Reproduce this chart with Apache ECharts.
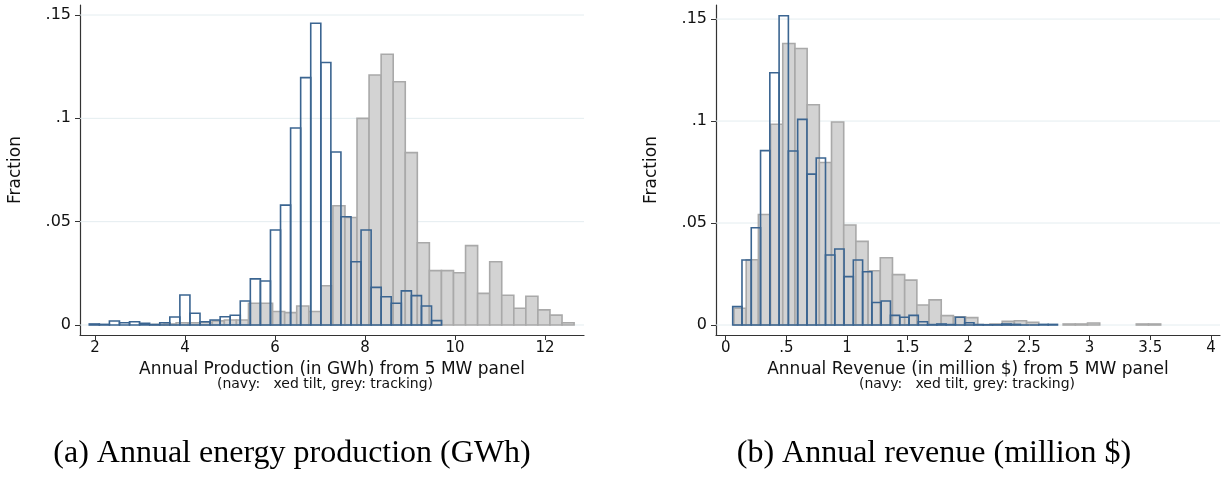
<!DOCTYPE html>
<html>
<head>
<meta charset="utf-8">
<script src="https://cdn.jsdelivr.net/npm/echarts@6/dist/echarts.min.js"></script>
<style>
html, body { margin: 0; padding: 0; background: #fff; }
#chart { width: 1225px; height: 485px; }
</style>
</head>
<body>
<div id="chart"></div>
<script>
// (a) annual production in GWh -- navy = fixed tilt, grey = tracking
var prodFixedStart = 1.873, prodFixedWidth = 0.2237;
var prodFixed = [0.0005, 0.0003, 0.0019, 0.0011, 0.0016, 0.0008, 0.0002, 0.0011, 0.0039, 0.0145,
  0.0057, 0.0016, 0.0024, 0.0040, 0.0047, 0.0116, 0.0223, 0.0213, 0.0460, 0.0580,
  0.0953, 0.1197, 0.1460, 0.1270, 0.0837, 0.0524, 0.0306, 0.0460, 0.0182, 0.0137,
  0.0105, 0.0165, 0.0142, 0.0092, 0.0021];
var prodTrackStart = 3.267, prodTrackWidth = 0.268;
var prodTrack = [0.0003, 0.0005, 0.0011, 0.0011, 0.0013, 0.0020, 0.0024, 0.0024, 0.0105, 0.0105,
  0.0065, 0.0060, 0.0092, 0.0065, 0.0190, 0.0577, 0.0520, 0.1000, 0.1210, 0.1310,
  0.1177, 0.0834, 0.0398, 0.0263, 0.0263, 0.0253, 0.0384, 0.0153, 0.0306, 0.0144,
  0.0081, 0.0139, 0.0073, 0.0048, 0.0011];

// (b) annual revenue in million $
var revFixedStart = 0.0577, revFixedWidth = 0.0765;
var revFixed = [0.0090, 0.0319, 0.0477, 0.0855, 0.1237, 0.1516, 0.0853, 0.1008, 0.0740, 0.0819,
  0.0343, 0.0373, 0.0237, 0.0319, 0.0261, 0.0110, 0.0118, 0.0047, 0.0038, 0.0047,
  0.0016, 0.0002, 0.0005, 0.0002, 0.0038, 0.0011, 0.0002, 0.0001, 0.0001, 0.0005,
  0.0003, 0, 0, 0.0003, 0.0003];
var revTrackStart = 0.0684, revTrackWidth = 0.1005;
var revTrack = [0.0082, 0.0320, 0.0542, 0.0984, 0.1380, 0.1356, 0.1080, 0.0797, 0.0995, 0.0490,
  0.0410, 0.0266, 0.0330, 0.0247, 0.0220, 0.0098, 0.0123, 0.0046, 0.0040, 0.0036,
  0.0002, 0.0005, 0.0018, 0.0021, 0.0013, null, null, 0.0005, 0.0005, 0.0010,
  null, null, null, 0.0005, 0.0005];

var fractionTicks = [0, 0.05, 0.1, 0.15];
var prodTicks = [2, 4, 6, 8, 10, 12];
var revTicks = [0, 0.5, 1, 1.5, 2, 2.5, 3, 3.5, 4];

var NAVY = '#3b6591', GREY_LINE = '#a9a9a9', GREY_FILL = '#d3d3d3';
var SANS = 'DejaVu Sans';

function bins(start, width, vals) {
  var out = [];
  vals.forEach(function (v, i) {
    if (v === null) return;
    out.push([start + i * width, start + (i + 1) * width, v]);
  });
  return out;
}

function histItem(stroke, fill) {
  return function (params, api) {
    var a = api.coord([api.value(0), api.value(2)]);
    var b = api.coord([api.value(1), 0]);
    return {
      type: 'rect',
      shape: { x: a[0], y: a[1], width: b[0] - a[0], height: b[1] - a[1] },
      style: { fill: fill, stroke: stroke, lineWidth: 1.6 }
    };
  };
}

function gridLineItem(params, api) {
  var cs = params.coordSys;
  var y = api.coord([0, api.value(0)])[1];
  return {
    type: 'line',
    shape: { x1: cs.x, y1: y, x2: cs.x + cs.width, y2: y },
    style: { stroke: '#e4edf0', lineWidth: 1 }
  };
}

function fmt(v) {
  return v === 0 ? '0' : String(v).replace(/^0\./, '.');
}

function xAx(idx, min, max, ticks, name) {
  return {
    type: 'value', gridIndex: idx, min: min, max: max,
    axisLine: { show: true, onZero: false, lineStyle: { color: '#333', width: 1.2 } },
    axisTick: { show: true, length: 5, customValues: ticks, lineStyle: { color: '#333' } },
    axisLabel: { customValues: ticks, formatter: fmt, margin: 6, fontFamily: SANS, fontSize: 15, color: '#111' },
    splitLine: { show: false },
    name: name, nameLocation: 'middle', nameGap: 16,
    nameTextStyle: { fontFamily: SANS, fontSize: 17, color: '#111' }
  };
}

function yAx(idx, min, max) {
  return {
    type: 'value', gridIndex: idx, min: min, max: max,
    axisLine: { show: true, onZero: false, lineStyle: { color: '#333', width: 1.2 } },
    axisTick: { show: true, length: 5, customValues: fractionTicks, lineStyle: { color: '#333' } },
    axisLabel: { customValues: fractionTicks, formatter: fmt, margin: 9, fontFamily: SANS, fontSize: 16, color: '#111' },
    splitLine: { show: false },
    name: 'Fraction', nameLocation: 'middle', nameGap: 56, nameRotate: 90,
    nameTextStyle: { fontFamily: SANS, fontSize: 17, color: '#111' }
  };
}

var chart = echarts.init(document.getElementById('chart'), null, { renderer: 'canvas' });

var captionStyle = { fontFamily: SANS, fontSize: 14, color: '#111', fontWeight: 'normal' };
var subStyle = { fontFamily: 'Liberation Serif', fontSize: 32, color: '#000', fontWeight: 'normal' };

var option = {
  backgroundColor: '#fff',
  animation: false,
  title: [
    { text: '(navy:   xed tilt, grey: tracking)', left: 320, top: 372, textAlign: 'center', textStyle: captionStyle },
    { text: '(navy:   xed tilt, grey: tracking)', left: 962, top: 372, textAlign: 'center', textStyle: captionStyle },
    { text: '(a) Annual energy production (GWh)', left: 287, top: 433, textAlign: 'center', textStyle: subStyle },
    { text: '(b) Annual revenue (million $)', left: 929, top: 433, textAlign: 'center', textStyle: subStyle }
  ],
  grid: [
    { left: 80, top: 5, width: 504, height: 330 },
    { left: 716, top: 5, width: 504, height: 330 }
  ],
  xAxis: [
    xAx(0, 1.667, 12.867, prodTicks, 'Annual Production (in GWh) from 5 MW panel'),
    xAx(1, -0.08, 4.075, revTicks, 'Annual Revenue (in million $) from 5 MW panel')
  ],
  yAxis: [
    yAx(0, -0.00484, 0.15484),
    yAx(1, -0.0049, 0.1569)
  ],
  series: [
    { type: 'custom', xAxisIndex: 0, yAxisIndex: 0, z: 1, silent: true,
      data: fractionTicks.map(function (v) { return [v]; }), renderItem: gridLineItem },
    { type: 'custom', xAxisIndex: 1, yAxisIndex: 1, z: 1, silent: true,
      data: fractionTicks.map(function (v) { return [v]; }), renderItem: gridLineItem },
    { type: 'custom', name: 'tracking', xAxisIndex: 0, yAxisIndex: 0, z: 2,
      encode: { x: [0, 1], y: 2 },
      data: bins(prodTrackStart, prodTrackWidth, prodTrack), renderItem: histItem(GREY_LINE, GREY_FILL) },
    { type: 'custom', name: 'fixed tilt', xAxisIndex: 0, yAxisIndex: 0, z: 3,
      encode: { x: [0, 1], y: 2 },
      data: bins(prodFixedStart, prodFixedWidth, prodFixed), renderItem: histItem(NAVY, 'rgba(0,0,0,0)') },
    { type: 'custom', name: 'tracking', xAxisIndex: 1, yAxisIndex: 1, z: 2,
      encode: { x: [0, 1], y: 2 },
      data: bins(revTrackStart, revTrackWidth, revTrack), renderItem: histItem(GREY_LINE, GREY_FILL) },
    { type: 'custom', name: 'fixed tilt', xAxisIndex: 1, yAxisIndex: 1, z: 3,
      encode: { x: [0, 1], y: 2 },
      data: bins(revFixedStart, revFixedWidth, revFixed), renderItem: histItem(NAVY, 'rgba(0,0,0,0)') }
  ]
};
chart.setOption(option);
</script>
</body>
</html>
